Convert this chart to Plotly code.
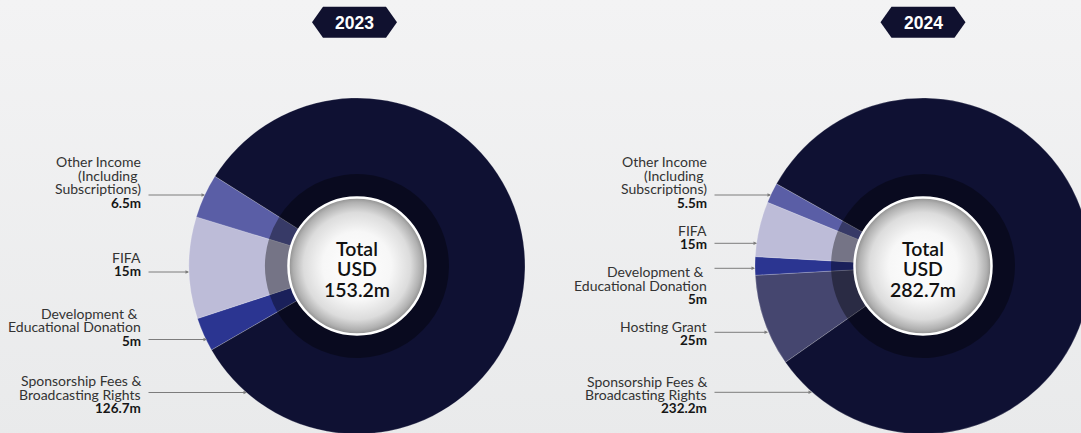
import base64
import plotly.graph_objects as go

# ---------------- data ----------------
years = ["2023", "2024"]
cats_2023 = ["Development & Educational Donation", "FIFA",
             "Other Income (Including Subscriptions)",
             "Sponsorship Fees & Broadcasting Rights"]
vals_2023 = [5, 15, 6.5, 126.7]
cats_2024 = ["Hosting Grant", "Development & Educational Donation", "FIFA",
             "Other Income (Including Subscriptions)",
             "Sponsorship Fees & Broadcasting Rights"]
vals_2024 = [25, 5, 15, 5.5, 232.2]
totals = [153.2, 282.7]
label_lines = {
    "Other Income (Including Subscriptions)": ["Other Income", "(Including\u00a0", "Subscriptions)"],
    "FIFA": ["FIFA"],
    "Development & Educational Donation": ["Development &\u00a0", "Educational Donation"],
    "Hosting Grant": ["Hosting Grant"],
    "Sponsorship Fees & Broadcasting Rights": ["Sponsorship Fees &", "Broadcasting Rights"],
}
center_lines = ["Total", "USD"]

# ---------------- styling / layout ----------------
W, H = 1100, 440
R_OUT, R_MID, R_IN = 168, 92, 71
centers = [(357, 266), (923, 266)]
rotations = [240, 235]
colors = {
    "Sponsorship Fees & Broadcasting Rights": "#0f1133",
    "Other Income (Including Subscriptions)": "#5a5ea6",
    "FIFA": "#bdbcd8",
    "Development & Educational Donation": "#2b3591",
    "Hosting Grant": "#45466f",
}
label_right = [143, 709]
arrow_tail = [147, 713]
# per year: category -> (y of first text line, arrow y, arrow tip x)
label_pos = [
    {
        "Other Income (Including Subscriptions)": (161.7, 195, 205),
        "FIFA": (257.5, 272, 189),
        "Development & Educational Donation": (313.3, 339.5, 207),
        "Sponsorship Fees & Broadcasting Rights": (380.7, 392.5, 247),
    },
    {
        "Other Income (Including Subscriptions)": (161.7, 195, 771),
        "FIFA": (230, 243.3, 757),
        "Development & Educational Donation": (271.7, 268.3, 755),
        "Hosting Grant": (326.7, 332.3, 768),
        "Sponsorship Fees & Broadcasting Rights": (381, 392.3, 812),
    },
]
PITCH = 13.6
FONT = "Lato"


def X(px):
    return px


def Y(py):
    return H - py


def svg_uri(svg):
    return "data:image/svg+xml;base64," + base64.b64encode(svg.encode()).decode()


bg_svg = ("<svg xmlns='http://www.w3.org/2000/svg' width='100' height='100' preserveAspectRatio='none'>"
          "<defs><linearGradient id='b' x1='0' y1='0' x2='0' y2='1'>"
          "<stop offset='0' stop-color='#f3f3f4'/><stop offset='1' stop-color='#e9eaeb'/>"
          "</linearGradient></defs><rect width='100' height='100' fill='url(#b)'/></svg>")

ball_svg = ("<svg xmlns='http://www.w3.org/2000/svg' width='200' height='200' viewBox='0 0 200 200'>"
            "<defs><radialGradient id='g' cx='50%' cy='50%' r='50%'>"
            "<stop offset='0%' stop-color='#ffffff'/>"
            "<stop offset='50%' stop-color='#f7f7f7'/>"
            "<stop offset='78%' stop-color='#dcdcdc'/>"
            "<stop offset='93%' stop-color='#b0b0b0'/>"
            "<stop offset='100%' stop-color='#8e8e8e'/>"
            "</radialGradient></defs>"
            "<circle cx='100' cy='100' r='96.5' fill='url(#g)' stroke='#ffffff' stroke-width='3.5'/></svg>")

fig = go.Figure()

# invisible pixel-space axis
fig.add_trace(go.Scatter(x=[0, W], y=[0, H], mode="markers",
                         marker=dict(opacity=0), hoverinfo="skip", showlegend=False))

datasets = [(cats_2023, vals_2023), (cats_2024, vals_2024)]
images = [dict(source=svg_uri(bg_svg), xref="paper", yref="paper", x=0, y=1,
               sizex=1, sizey=1, xanchor="left", yanchor="top", sizing="stretch",
               layer="below")]
annotations = []
shapes = []

for i, (cats, vals) in enumerate(datasets):
    cx, cy = centers[i]

    def dom(r):
        return dict(x=[(cx - r) / W, (cx + r) / W],
                    y=[(H - cy - r) / H, (H - cy + r) / H])

    fig.add_trace(go.Pie(
        labels=cats, values=vals, sort=False, direction="clockwise",
        rotation=rotations[i], hole=0.38, domain=dom(R_OUT),
        marker=dict(colors=[colors[c] for c in cats],
                    line=dict(color="rgba(255,255,255,0.35)", width=0.6)),
        textinfo="none", hoverinfo="label+value", showlegend=False))
    fig.add_trace(go.Pie(
        labels=cats, values=vals, sort=False, direction="clockwise",
        rotation=rotations[i], hole=0.72, domain=dom(R_MID),
        marker=dict(colors=["rgba(0,0,0,0.38)"] * len(cats), line=dict(width=0)),
        textinfo="none", hoverinfo="skip", showlegend=False))

    # white center ball
    images.append(dict(source=svg_uri(ball_svg), xref="paper", yref="paper",
                       x=cx / W, y=1 - cy / H, sizex=2 * R_IN / W, sizey=2 * R_IN / H,
                       xanchor="center", yanchor="middle", sizing="stretch", layer="above"))

    # center text
    ctext = center_lines + [f"{totals[i]:g}m"]
    for k, t in enumerate(ctext):
        annotations.append(dict(x=X(cx), y=Y(248 + k * 20.7), xref="x", yref="y",
                                text=t, showarrow=False, xanchor="center", yanchor="middle",
                                font=dict(family=FONT, size=19.5, color="#111111", weight=600)))

    # year badge
    bx = (312 + 397) / 2 if i == 0 else 923
    hw, tip, top, bot = 42.5, 11, 6.7, 37.7
    mid = (top + bot) / 2
    path = (f"M {X(bx - hw)} {Y(mid)} L {X(bx - hw + tip)} {Y(top)} L {X(bx + hw - tip)} {Y(top)} "
            f"L {X(bx + hw)} {Y(mid)} L {X(bx + hw - tip)} {Y(bot)} L {X(bx - hw + tip)} {Y(bot)} Z")
    shapes.append(dict(type="path", path=path, xref="x", yref="y",
                       fillcolor="#10112f", line=dict(width=0), layer="above"))
    annotations.append(dict(x=X(bx), y=Y(mid + 0.5), xref="x", yref="y", text=f"<b>{years[i]}</b>",
                            showarrow=False, xanchor="center", yanchor="middle",
                            font=dict(family="Liberation Sans", size=17.5, color="#ffffff")))

    # labels + arrows
    for c, v in zip(cats, vals):
        y0, ay, tipx = label_pos[i][c]
        lines = label_lines[c]
        for k, t in enumerate(lines):
            annotations.append(dict(x=X(label_right[i]), y=Y(y0 + k * PITCH), xref="x", yref="y",
                                    text=t, showarrow=False, xanchor="right", yanchor="middle",
                                    font=dict(family=FONT, size=14, color="#333333")))
        annotations.append(dict(x=X(label_right[i]), y=Y(y0 + len(lines) * PITCH), xref="x", yref="y",
                                text=f"<b>{v:g}m</b>", showarrow=False, xanchor="right",
                                yanchor="middle",
                                font=dict(family=FONT, size=13.5, color="#161616")))
        annotations.append(dict(x=X(tipx), y=Y(ay), xref="x", yref="y", ax=X(arrow_tail[i]),
                                ay=Y(ay), axref="x", ayref="y", text="", showarrow=True,
                                arrowhead=2, arrowsize=0.7, arrowwidth=1, arrowcolor="#7c7c7c",
                                standoff=0))

fig.update_layout(
    width=W, height=H, margin=dict(l=0, r=0, t=0, b=0),
    paper_bgcolor="#eff0f1", plot_bgcolor="rgba(0,0,0,0)",
    xaxis=dict(range=[0, W], visible=False, fixedrange=True),
    yaxis=dict(range=[0, H], visible=False, fixedrange=True),
    images=images, annotations=annotations, shapes=shapes,
    showlegend=False,
)

fig.write_html("out.html", config={"displayModeBar": False},
               post_script="document.body.style.margin='0';document.body.style.overflow='hidden';"
                           "document.documentElement.style.overflow='hidden';")
